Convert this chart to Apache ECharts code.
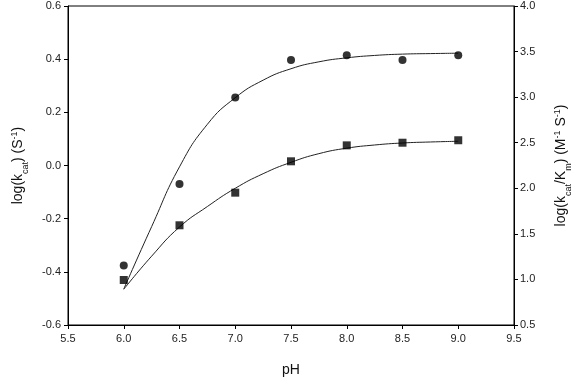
<!DOCTYPE html>
<html>
<head>
<meta charset="utf-8">
<script src="https://cdn.jsdelivr.net/npm/echarts@6/dist/echarts.min.js"></script>
<style>html,body{margin:0;padding:0;background:#fff;}#c{width:581px;height:391px;}</style>
</head>
<body>
<div id="c"></div>
<script>
var pH = [6.0, 6.5, 7.0, 7.5, 8.0, 8.5, 9.0];
var logKcat = [-0.376, -0.070, 0.256, 0.397, 0.415, 0.397, 0.415];
var logKcatKm = [0.994, 1.594, 1.952, 2.296, 2.471, 2.500, 2.527];
var fitPH = [6.0, 6.25, 6.5, 6.75, 7.0, 7.25, 7.5, 7.75, 8.0, 8.25, 8.5, 8.75, 9.0];
var fitKcat = [-0.465, -0.230, -0.005, 0.155, 0.255, 0.321, 0.364, 0.390, 0.405, 0.414, 0.419, 0.421, 0.4225];
var fitKcatKm = [0.892, 1.255, 1.575, 1.800, 2.000, 2.160, 2.285, 2.380, 2.440, 2.475, 2.497, 2.508, 2.516];

function pairs(xs, ys){ return xs.map(function(x,i){ return [x, ys[i]]; }); }

var font = 'Liberation Sans, Arial, sans-serif';
var rich = {
  a: {fontSize: 14, fontFamily: font, color: '#111', lineHeight: 20, verticalAlign: 'middle'},
  sub: {fontSize: 9, fontFamily: font, color: '#111', lineHeight: 20, verticalAlign: 'bottom', padding:[0,0,-2,0]},
  sup: {fontSize: 9, fontFamily: font, color: '#111', lineHeight: 20, verticalAlign: 'top', padding:[2,0,0,0]}
};
var axisLineStyle = {show: true, onZero: false, lineStyle: {color: '#000', width: 1}};
var labelStyle = {fontSize: 11, fontFamily: font, color: '#222'};

var chart = echarts.init(document.getElementById('c'), null, {renderer: 'canvas'});
chart.setOption({
  animation: false,
  backgroundColor: '#fff',
  grid: {left: 67, right: 60, top: 6, bottom: 66, show: true, borderColor: '#000', borderWidth: 1},
  xAxis: {
    type: 'value', min: 5.5, max: 9.5, interval: 0.5,
    name: 'pH', nameLocation: 'middle', nameGap: 38,
    nameTextStyle: {fontSize: 14, fontFamily: font, color: '#111'},
    axisLine: axisLineStyle,
    axisTick: {show: true, inside: false, length: 4, lineStyle: {color: '#000'}},
    axisLabel: Object.assign({margin: 8, formatter: function(v){ return v.toFixed(1); }}, labelStyle),
    splitLine: {show: false}
  },
  yAxis: [{
    type: 'value', min: -0.6, max: 0.6, interval: 0.2, position: 'left',
    name: '{a|log(k}{sub|cat}{a|) (S}{sup|-1}{a|)}', nameLocation: 'middle', nameGap: 40, nameRotate: 90,
    nameTextStyle: {rich: rich},
    axisLine: axisLineStyle,
    axisTick: {show: true, length: 4, lineStyle: {color: '#000'}},
    axisLabel: Object.assign({margin: 7, formatter: function(v){ return v.toFixed(1); }}, labelStyle),
    splitLine: {show: false}
  }, {
    type: 'value', min: 0.5, max: 4.0, interval: 0.5, position: 'right',
    name: '{a|log(k}{sub|cat}{a|/K}{sub|m}{a|) (M}{sup|-1}{a| S}{sup|-1}{a|)}', nameLocation: 'middle', nameGap: 37, nameRotate: 90,
    nameTextStyle: {rich: rich},
    axisLine: axisLineStyle,
    axisTick: {show: true, length: 4, lineStyle: {color: '#000'}},
    axisLabel: Object.assign({margin: 6, formatter: function(v){ return v.toFixed(1); }}, labelStyle),
    splitLine: {show: false}
  }],
  series: [{
    type: 'line', yAxisIndex: 0, data: pairs(fitPH, fitKcat), smooth: 0.5,
    showSymbol: false, lineStyle: {color: '#222', width: 1}, z: 1
  }, {
    type: 'line', yAxisIndex: 1, data: pairs(fitPH, fitKcatKm), smooth: 0.5,
    showSymbol: false, lineStyle: {color: '#222', width: 1}, z: 1
  }, {
    type: 'scatter', yAxisIndex: 0, data: pairs(pH, logKcat), symbol: 'circle', symbolSize: 8,
    itemStyle: {color: '#000'}, z: 3
  }, {
    type: 'scatter', yAxisIndex: 1, data: pairs(pH, logKcatKm), symbol: 'rect', symbolSize: 8,
    itemStyle: {color: '#000'}, z: 3
  }]
});
</script>
</body>
</html>
